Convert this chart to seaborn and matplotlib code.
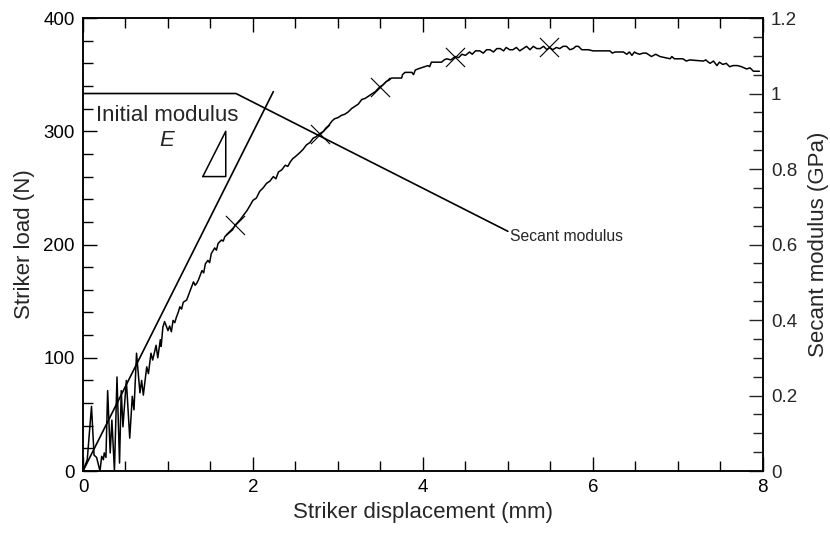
import matplotlib
matplotlib.use("Agg")
import matplotlib.pyplot as plt
from matplotlib.ticker import MultipleLocator, FixedLocator, FixedFormatter
import pandas as pd
import seaborn as sns

# Striker load vs. displacement (mm, N)
disp_mm = [
    0.00, 0.05, 0.10, 0.13, 0.16, 0.20, 0.22, 0.24, 0.25, 0.27,
    0.29, 0.32, 0.34, 0.37, 0.40, 0.43, 0.45, 0.47, 0.51, 0.55,
    0.58, 0.60, 0.63, 0.67, 0.69, 0.71, 0.75, 0.77, 0.80, 0.82,
    0.86, 0.88, 0.91, 0.92, 0.94, 0.96, 1.00, 1.02, 1.04, 1.06,
    1.08, 1.10, 1.12, 1.14, 1.16, 1.18, 1.22, 1.25, 1.28, 1.30,
    1.32, 1.34, 1.36, 1.40, 1.42, 1.44, 1.47, 1.49, 1.51, 1.55,
    1.57, 1.59, 1.63, 1.65, 1.67, 1.73, 1.76, 1.79, 1.85, 1.89,
    1.93, 1.97, 2.00, 2.04, 2.08, 2.12, 2.16, 2.20, 2.24, 2.27,
    2.30, 2.34, 2.38, 2.41, 2.44, 2.47, 2.49, 2.52, 2.55, 2.59,
    2.63, 2.67, 2.71, 2.74, 2.77, 2.83, 2.86, 2.89, 2.93, 2.96,
    3.00, 3.04, 3.08, 3.12, 3.16, 3.20, 3.24, 3.28, 3.32, 3.36,
    3.40, 3.44, 3.49, 3.53, 3.57, 3.60, 3.63, 3.75, 3.76, 3.79,
    3.87, 3.89, 3.91, 3.94, 4.06, 4.08, 4.10, 4.22, 4.25, 4.28,
    4.33, 4.38, 4.42, 4.46, 4.50, 4.55, 4.58, 4.62, 4.67, 4.71,
    4.75, 4.79, 4.83, 4.87, 4.91, 4.95, 4.98, 5.02, 5.06, 5.10,
    5.14, 5.18, 5.22, 5.26, 5.30, 5.34, 5.38, 5.42, 5.46, 5.49,
    5.53, 5.57, 5.61, 5.65, 5.69, 5.73, 5.77, 5.80, 5.83, 5.87,
    5.95, 6.00, 6.03, 6.06, 6.10, 6.20, 6.23, 6.26, 6.36, 6.40,
    6.43, 6.46, 6.49, 6.51, 6.55, 6.59, 6.63, 6.69, 6.74, 6.79,
    6.85, 6.91, 6.93, 6.96, 7.06, 7.10, 7.14, 7.30, 7.33, 7.36,
    7.38, 7.42, 7.46, 7.49, 7.53, 7.57, 7.61, 7.65, 7.70, 7.75,
    7.81, 7.85, 7.89, 7.96,
]
load_n = [
    0, 10, 57, 14, 12, 0, 13, 10, 16, 12,
    71, 16, 45, 0, 83, 7, 71, 39, 80, 29,
    66, 54, 104, 69, 80, 67, 92, 86, 104, 98,
    111, 100, 116, 110, 127, 132, 124, 128, 123, 133,
    131, 136, 140, 145, 143, 149, 151, 157, 163, 167,
    164, 166, 169, 177, 175, 183, 186, 184, 192, 197,
    195, 201, 204, 203, 207, 211, 213, 217, 222, 226,
    230, 235, 239, 241, 247, 250, 254, 256, 260, 258,
    264, 266, 270, 269, 273, 276, 277, 279, 281, 284,
    288, 290, 294, 295, 297, 300, 303, 305, 309, 311,
    312, 314, 315, 317, 320, 322, 324, 328, 329, 331,
    333, 335, 339, 341, 344, 345, 347, 347, 350, 352,
    352, 350, 354, 355, 358, 357, 361, 361, 363, 364,
    363, 366, 365, 368, 367, 370, 368, 371, 371, 369,
    372, 372, 370, 373, 373, 371, 374, 372, 372, 374,
    371, 373, 375, 372, 375, 373, 373, 375, 372, 374,
    372, 374, 373, 375, 375, 372, 373, 375, 375, 372,
    372, 371, 371, 371, 371, 371, 369, 370, 370, 368,
    370, 367, 370, 369, 368, 369, 369, 366, 368, 366,
    365, 364, 366, 364, 364, 362, 363, 362, 363, 361,
    360, 362, 358, 361, 359, 360, 357, 358, 358, 357,
    355, 356, 353, 353,
]

# Points picked out on the load curve
mark_mm = [1.79, 2.79, 3.49, 4.38, 5.49]
mark_n = [217, 298, 339, 366, 374]

# Initial modulus line (N)
init_mm = [0.0, 2.24]
init_n = [0, 335]

# Slope triangle (N)
tri_mm = [1.41, 1.68, 1.68, 1.41]
tri_n = [260, 260, 300, 260]

# Secant modulus (GPa)
sec_mm = [0.0, 1.80, 5.00]
sec_gpa = [1.0, 1.0, 0.635]

right_ticks = [0, 0.2, 0.4, 0.6, 0.8, 1.0, 1.2]
right_labels = ["0", "0.2", "0.4", "0.6", "0.8", "1", "1.2"]

sns.set_style("ticks")
plt.rcParams["font.family"] = ["Liberation Sans", "DejaVu Sans"]

fig = plt.figure(figsize=(8.30, 5.33), dpi=100)
ax = fig.add_axes([0.1, 0.1163, 0.819, 0.8499])
ax2 = ax.twinx()

curve = pd.DataFrame({"disp": disp_mm, "load": load_n})
sns.lineplot(data=curve, x="disp", y="load", ax=ax, color="black",
             linewidth=1.1, sort=False, estimator=None)
sns.lineplot(x=init_mm, y=init_n, ax=ax, color="black", linewidth=1.2,
             sort=False, estimator=None)
sns.lineplot(x=tri_mm, y=tri_n, ax=ax, color="black", linewidth=1.1,
             sort=False, estimator=None)
sns.scatterplot(x=mark_mm, y=mark_n, ax=ax, marker="x", s=190,
                color="black", linewidth=0.8, zorder=5)
sns.lineplot(x=sec_mm, y=sec_gpa, ax=ax2, color="black", linewidth=1.2,
             sort=False, estimator=None)

ax.text(0.99, 314, "Initial modulus", fontsize=16, ha="center", va="center")
ax.text(0.99, 292, "E", fontsize=16, style="italic", ha="center", va="center")
ax2.text(5.02, 0.62, "Secant modulus", fontsize=11.3, ha="left", va="center")

ax.set_xlim(0, 8)
ax.set_ylim(0, 400)
ax2.set_ylim(0, 1.2)

ax.xaxis.set_major_locator(MultipleLocator(2))
ax.xaxis.set_minor_locator(MultipleLocator(0.5))
ax.yaxis.set_major_locator(MultipleLocator(100))
ax.yaxis.set_minor_locator(MultipleLocator(20))
ax2.yaxis.set_major_locator(FixedLocator(right_ticks))
ax2.yaxis.set_major_formatter(FixedFormatter(right_labels))
ax2.yaxis.set_minor_locator(MultipleLocator(0.05))

ax.tick_params(axis="both", which="both", direction="in", top=True,
               right=False, labelsize=13.5, width=1.0, pad=6, colors="black")
ax.tick_params(which="major", length=10)
ax.tick_params(which="minor", length=7)
ax2.tick_params(axis="y", which="both", direction="in", labelsize=13.5,
                width=1.0, pad=6)
ax2.tick_params(which="major", length=10)
ax2.tick_params(which="minor", length=7)

for a in (ax, ax2):
    for sp in a.spines.values():
        sp.set_visible(True)
        sp.set_linewidth(1.1)
        sp.set_color("black")

ax.set_xlabel("Striker displacement (mm)", fontsize=16, labelpad=4)
ax.set_ylabel("Striker load (N)", fontsize=16, labelpad=6)
ax2.set_ylabel("Secant modulus (GPa)", fontsize=16, labelpad=8)

fig.savefig("out.png", dpi=100)
